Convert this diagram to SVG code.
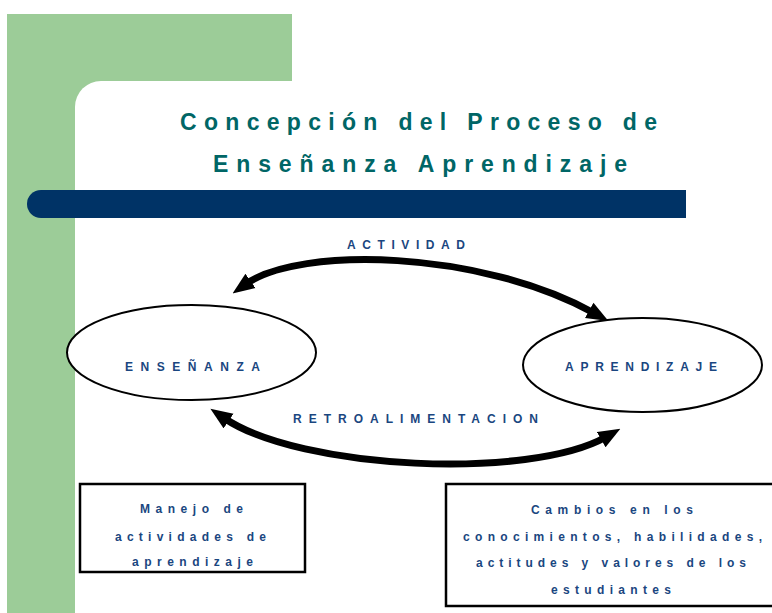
<svg xmlns="http://www.w3.org/2000/svg" width="772" height="613" viewBox="0 0 772 613">
<style>
.title{font-family:"Liberation Sans",Arial,sans-serif;font-weight:bold;font-size:23px;fill:#006666;}
.lbl{font-family:"Liberation Sans",Arial,sans-serif;font-weight:bold;font-size:12px;fill:#1a4680;}
.node{fill:#ffffff;stroke:#000000;stroke-width:2;}
.box{fill:#ffffff;stroke:#000000;stroke-width:2.5;}
.conn{fill:none;stroke:#000000;stroke-width:7;}
</style>
<defs>
<marker id="ah" viewBox="0 0 20 16" refX="5" refY="8" markerWidth="22" markerHeight="19" markerUnits="userSpaceOnUse" orient="auto-start-reverse">
<path d="M0,0 L20,8 L0,16 z" fill="#000000"/>
</marker>
</defs>
<rect x="0" y="0" width="772" height="613" fill="#ffffff"/>
<g id="background">
<rect x="7" y="14" width="285" height="599" fill="#9ccc98"/>
<rect x="75" y="81" width="760" height="600" rx="26" ry="26" fill="#ffffff"/>
<path d="M41,190 H686 V218 H41 A14,14 0 0 1 41,190 Z" fill="#003366"/>
</g>
<g id="title">
<text class="title" x="180" y="130" textLength="477" lengthAdjust="spacing">Concepción del Proceso de</text>
<text class="title" x="213" y="172" textLength="414" lengthAdjust="spacing">Enseñanza Aprendizaje</text>
</g>
<g id="connectors">
<path class="conn" d="M246,284 C300,246 480,250 594,313" marker-start="url(#ah)" marker-end="url(#ah)"/>
<text class="lbl" x="347" y="249" textLength="118" lengthAdjust="spacing">ACTIVIDAD</text>
<path class="conn" d="M224,418 C300,470 530,480 606,437" marker-start="url(#ah)" marker-end="url(#ah)"/>
<text class="lbl" x="293" y="423" textLength="245" lengthAdjust="spacing">RETROALIMENTACION</text>
</g>
<g id="node-ensenanza">
<ellipse class="node" cx="191.5" cy="352.5" rx="124.5" ry="47.5"/>
<text class="lbl" x="125" y="371" textLength="135" lengthAdjust="spacing">ENSEÑANZA</text>
</g>
<g id="node-aprendizaje">
<ellipse class="node" cx="642.5" cy="365" rx="119.5" ry="47"/>
<text class="lbl" x="565" y="370.5" textLength="152" lengthAdjust="spacing">APRENDIZAJE</text>
</g>
<g id="box-manejo">
<rect class="box" x="80" y="484" width="225" height="88"/>
<text class="lbl" x="140" y="513" textLength="103" lengthAdjust="spacing">Manejo de</text>
<text class="lbl" x="115" y="540.5" textLength="151" lengthAdjust="spacing">actividades de</text>
<text class="lbl" x="132" y="566" textLength="121" lengthAdjust="spacing">aprendizaje</text>
</g>
<g id="box-cambios">
<rect class="box" x="446" y="484" width="340" height="122"/>
<text class="lbl" x="531" y="514" textLength="162" lengthAdjust="spacing">Cambios en los</text>
<text class="lbl" x="463" y="540.5" textLength="299" lengthAdjust="spacing">conocimientos, habilidades,</text>
<text class="lbl" x="476" y="567" textLength="270" lengthAdjust="spacing">actitudes y valores de los</text>
<text class="lbl" x="551" y="594" textLength="120" lengthAdjust="spacing">estudiantes</text>
</g>
</svg>
